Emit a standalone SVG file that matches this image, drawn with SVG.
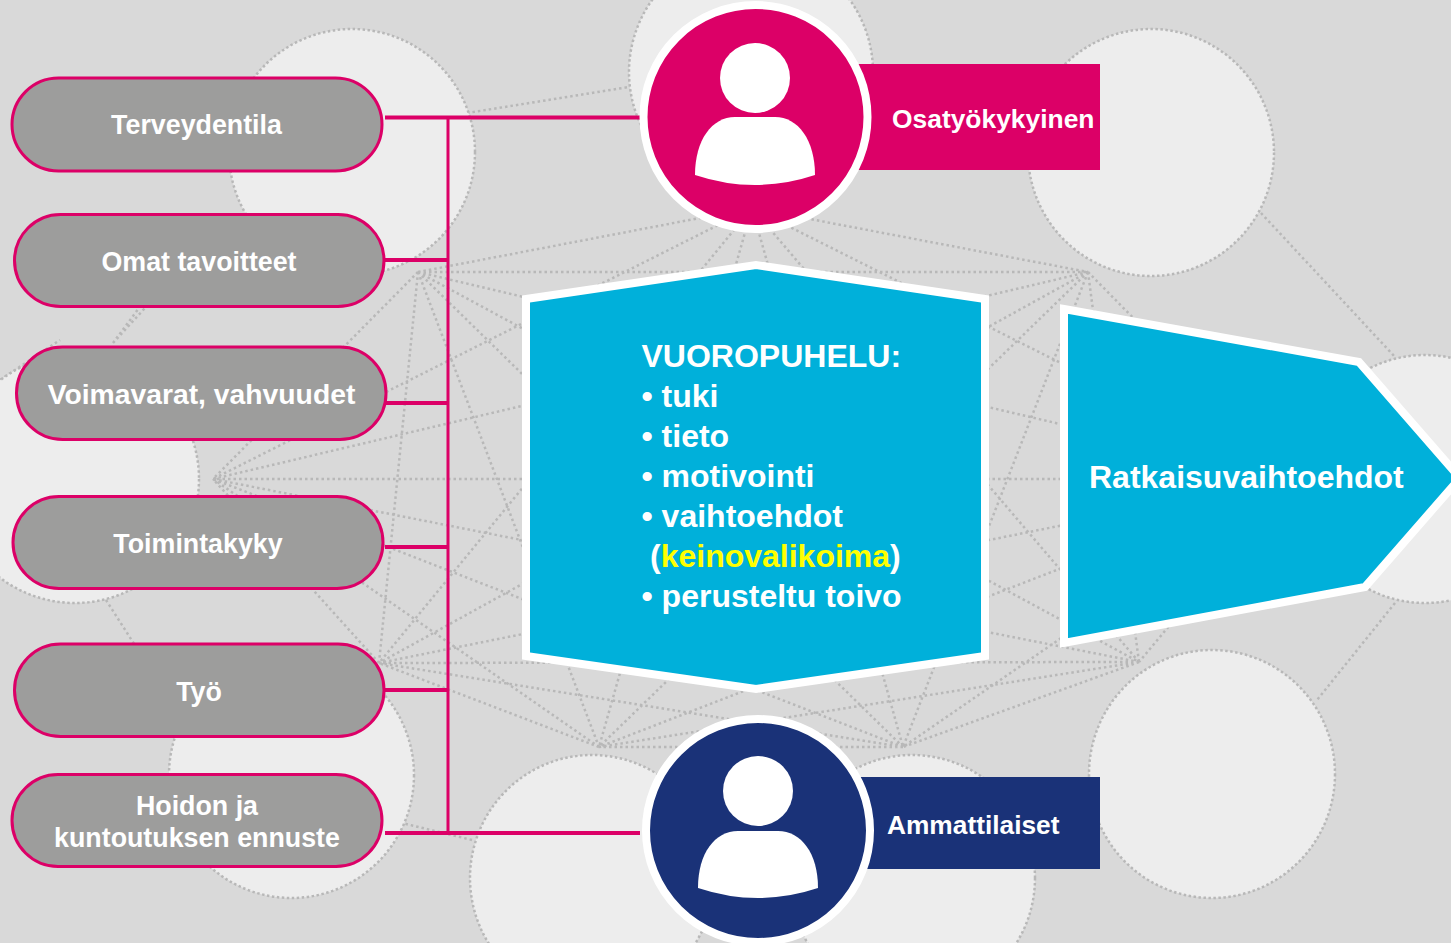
<svg xmlns="http://www.w3.org/2000/svg" width="1451" height="943" viewBox="0 0 1451 943">
<style>
text{font-family:"Liberation Sans",Arial,sans-serif;font-weight:bold;fill:#fff}
.big{fill:#ededed;stroke:#b8b8b8;stroke-width:2.5;stroke-dasharray:2.5 2.5}
.net{fill:none;stroke:#b8b8b8;stroke-width:2.5;stroke-dasharray:2.5 3}
.pill{fill:#9d9d9c;stroke:#dc0067;stroke-width:3}
.pl{font-size:26.800px;text-anchor:middle}
.conn{fill:none;stroke:#dc0067;stroke-width:4}
.v{font-size:32px}
</style>
<rect width="1451" height="943" fill="#d9d9d9"/>
<g id="background">
<path class="net" d="M467 113L629 87M873 87L1040 113M1261 213L1395 357M1395 603L1317 700M1100 800L1030 840M472 840L402 823M106 600L170 700M113 343L139 308M0 380L60 340M113 343L230 215"/>
<ellipse class="big" cx="352" cy="152" rx="123" ry="123"/>
<ellipse class="big" cx="751" cy="72" rx="122" ry="123"/>
<ellipse class="big" cx="1151" cy="152.500" rx="123" ry="123.500"/>
<ellipse class="big" cx="1425" cy="479" rx="123" ry="124"/>
<ellipse class="big" cx="1212" cy="774" rx="123" ry="124"/>
<ellipse class="big" cx="912" cy="878" rx="123" ry="123"/>
<ellipse class="big" cx="592" cy="878" rx="122" ry="123"/>
<ellipse class="big" cx="291.500" cy="775" rx="122.500" ry="123"/>
<ellipse class="big" cx="75" cy="479" rx="124" ry="124"/>
<path class="net" d="M418 272L752 208M418 272L1088 272M418 272L1292 479M418 272L1139 662M418 272L903 747M418 272L599 747M418 272L379 663M418 272L213 479M752 208L1088 272M752 208L1292 479M752 208L1139 662M752 208L903 747M752 208L599 747M752 208L379 663M752 208L213 479M1088 272L1292 479M1088 272L1139 662M1088 272L903 747M1088 272L599 747M1088 272L379 663M1088 272L213 479M1292 479L1139 662M1292 479L903 747M1292 479L599 747M1292 479L379 663M1292 479L213 479M1139 662L903 747M1139 662L599 747M1139 662L379 663M1139 662L213 479M903 747L599 747M903 747L379 663M903 747L213 479M599 747L379 663M599 747L213 479M379 663L213 479"/>
</g>
<g id="connectors">
<path class="conn" d="M385 117.500H640M385 260H448M386 403H448M385 547H448M385 690H448M385 833H640"/>
<path class="conn" style="stroke-width:3" d="M448 116V834"/>
</g>
<g id="node-terveydentila"><rect class="pill" x="12" y="78" width="370" height="93" rx="46.500"/><text class="pl" x="196.500" y="134">Terveydentila</text></g>
<g id="node-omat"><rect class="pill" x="14.500" y="214.500" width="369.500" height="92" rx="46"/><text class="pl" x="199" y="271">Omat tavoitteet</text></g>
<g id="node-voimavarat"><rect class="pill" x="16.500" y="347" width="369.500" height="92.500" rx="46"/><text class="pl" style="font-size:28.300px" x="201.500" y="404">Voimavarat, vahvuudet</text></g>
<g id="node-toimintakyky"><rect class="pill" x="13" y="496.500" width="370" height="92" rx="46"/><text class="pl" x="198" y="553">Toimintakyky</text></g>
<g id="node-tyo"><rect class="pill" x="14.500" y="644" width="369.500" height="92.500" rx="46"/><text class="pl" x="199" y="701">Työ</text></g>
<g id="node-hoidon"><rect class="pill" x="12" y="774.500" width="370" height="92" rx="46"/><text class="pl" x="197" y="815">Hoidon ja</text><text class="pl" x="197" y="847">kuntoutuksen ennuste</text></g>
<g id="node-vuoropuhelu">
<polygon points="526,299 756,265 985,299 985,656 756,689 526,656" fill="#00b0da" stroke="#fff" stroke-width="8"/>
<text class="v" x="641.500" y="367">VUOROPUHELU:</text>
<text class="v" x="641.500" y="407">• tuki</text>
<text class="v" x="641.500" y="447">• tieto</text>
<text class="v" x="641.500" y="487">• motivointi</text>
<text class="v" x="641.500" y="527">• vaihtoehdot</text>
<text class="v" x="650" y="567">(<tspan style="fill:#ffff00">keinovalikoima</tspan>)</text>
<text class="v" x="641.500" y="607">• perusteltu toivo</text>
</g>
<g id="node-ratkaisu">
<polygon points="1064,309 1359,362 1460,478 1365,587 1064,643" fill="#00b0da" stroke="#fff" stroke-width="8"/>
<text class="v" x="1089" y="488">Ratkaisuvaihtoehdot</text>
</g>
<g id="node-osatyokykyinen">
<rect x="850" y="64" width="250" height="106" fill="#dc0067"/>
<ellipse cx="755.500" cy="117" rx="112" ry="112" fill="#dc0067" stroke="#fff" stroke-width="8"/>
<ellipse cx="755" cy="78" rx="35" ry="35" fill="#fff"/>
<path d="M695 175C695 140 712 117 735 117H775C798 117 815 140 815 175Q755 195 695 175Z" fill="#fff"/>
<text x="892" y="128" style="font-size:26.400px">Osatyökykyinen</text>
</g>
<g id="node-ammattilaiset">
<rect x="850" y="777" width="250" height="92" fill="#1a3278"/>
<ellipse cx="758" cy="830.500" rx="112" ry="111.500" fill="#1a3278" stroke="#fff" stroke-width="8"/>
<ellipse cx="758" cy="791" rx="35" ry="35" fill="#fff"/>
<path d="M698 888C698 853 715 831 738 831H778C801 831 818 853 818 888Q758 908 698 888Z" fill="#fff"/>
<text x="887" y="834" style="font-size:26.300px">Ammattilaiset</text>
</g>
</svg>
